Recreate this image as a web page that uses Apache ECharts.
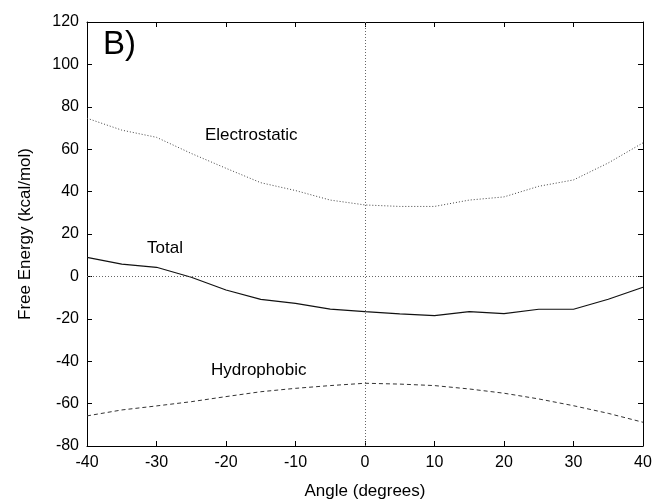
<!DOCTYPE html>
<html>
<head>
<meta charset="utf-8">
<script src="https://cdn.jsdelivr.net/npm/echarts@6/dist/echarts.min.js"></script>
<style>
  html, body { margin: 0; padding: 0; background: #fff; }
  #chart { width: 652px; height: 501px; }
</style>
</head>
<body>
<div id="chart"></div>
<script>
// angle in degrees
const angles = [-40, -35, -30, -25, -20, -15, -10, -5, 0, 5, 10, 15, 20, 25, 30, 35, 40];
// free energies, kcal/mol
const electrostatic = [74.6, 69, 65.6, 58, 51, 44.2, 40.5, 36, 33.7, 33, 33, 36, 37.5, 42.5, 45.5, 53.5, 63];
const total = [9, 5.8, 4.3, -0.4, -6.4, -10.8, -12.7, -15.4, -16.6, -17.7, -18.5, -16.6, -17.6, -15.5, -15.5, -10.8, -5.1];
const hydrophobic = [-65.8, -63, -61.1, -59.1, -56.7, -54.4, -52.8, -51.5, -50.4, -50.8, -51.5, -53.1, -55.1, -57.8, -61, -64.6, -68.8];

const font = 'Liberation Sans, Arial, Helvetica, sans-serif';

function pairs(ys) {
  return angles.map((a, i) => [a, ys[i]]);
}

let chart = echarts.init(document.getElementById('chart'));
let option = {
  animation: false,
  backgroundColor: '#fff',
  textStyle: { fontFamily: font },
  grid: { left: 87, right: 9, top: 22, bottom: 55, outerBoundsMode: 'none', containLabel: false },
  xAxis: [
    {
      type: 'value', min: -40, max: 40, interval: 10,
      name: 'Angle (degrees)', nameLocation: 'middle', nameGap: 37,
      nameTextStyle: { fontSize: 17, color: '#000', fontFamily: font },
      axisLine: { onZero: false, lineStyle: { color: '#000', width: 1 } },
      axisTick: { inside: true, length: 5, lineStyle: { color: '#000' } },
      axisLabel: { fontSize: 16, color: '#000', margin: 9, fontFamily: font },
      splitLine: { show: false }
    },
    {
      type: 'value', min: -40, max: 40, interval: 10, position: 'top',
      axisLine: { onZero: false, lineStyle: { color: '#000', width: 1 } },
      axisTick: { inside: true, length: 5, lineStyle: { color: '#000' } },
      axisLabel: { show: false },
      splitLine: { show: false }
    }
  ],
  yAxis: [
    {
      type: 'value', min: -80, max: 120, interval: 20,
      name: 'Free Energy (kcal/mol)', nameLocation: 'middle', nameGap: 53,
      nameTextStyle: { fontSize: 17, color: '#000', fontFamily: font },
      axisLine: { show: true, onZero: false, lineStyle: { color: '#000', width: 1 } },
      axisTick: { show: true, inside: true, length: 5, lineStyle: { color: '#000' } },
      axisLabel: { fontSize: 16, color: '#000', margin: 8, fontFamily: font },
      splitLine: { show: false }
    },
    {
      type: 'value', min: -80, max: 120, interval: 20, position: 'right',
      axisLine: { show: true, onZero: false, lineStyle: { color: '#000', width: 1 } },
      axisTick: { show: true, inside: true, length: 5, lineStyle: { color: '#000' } },
      axisLabel: { show: false },
      splitLine: { show: false }
    }
  ],
  series: [
    {
      name: 'Electrostatic', type: 'line', showSymbol: false, silent: true,
      data: pairs(electrostatic),
      lineStyle: { color: '#444', width: 1, type: [1, 2] }
    },
    {
      name: 'Total', type: 'line', showSymbol: false, silent: true,
      data: pairs(total),
      lineStyle: { color: '#111', width: 1.2 },
      markLine: {
        silent: true, symbol: 'none', label: { show: false },
        lineStyle: { color: '#666', width: 1, type: [1, 2] },
        data: [{ yAxis: 0 }, { xAxis: 0 }]
      }
    },
    {
      name: 'Hydrophobic', type: 'line', showSymbol: false, silent: true,
      data: pairs(hydrophobic),
      lineStyle: { color: '#333', width: 1, type: [4, 3] }
    }
  ],
  graphic: [
    { type: 'text', left: 103, top: 28, style: { text: 'B)', fontSize: 33, fill: '#000', fontFamily: font } },
    { type: 'text', left: 205, top: 127, style: { text: 'Electrostatic', fontSize: 17, fill: '#000', fontFamily: font } },
    { type: 'text', left: 147, top: 240, style: { text: 'Total', fontSize: 17, fill: '#000', fontFamily: font } },
    { type: 'text', left: 211, top: 362, style: { text: 'Hydrophobic', fontSize: 17, fill: '#000', fontFamily: font } }
  ]
};
chart.setOption(option);
</script>
</body>
</html>
